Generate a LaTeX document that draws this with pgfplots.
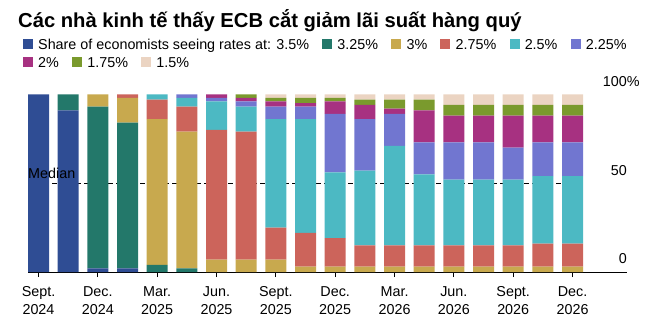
\documentclass[border=0pt]{standalone}
\usepackage{pgfplots}
\pgfplotsset{compat=1.18}
\usepackage{pgfplotstable}
\usepackage{fontspec}
\setmainfont{Liberation Sans}
\definecolor{cA}{HTML}{2F4D94}
\definecolor{cB}{HTML}{23786A}
\definecolor{cC}{HTML}{C8A94E}
\definecolor{cD}{HTML}{CC645B}
\definecolor{cE}{HTML}{4CB9C3}
\definecolor{cF}{HTML}{7176D0}
\definecolor{cG}{HTML}{A73181}
\definecolor{cH}{HTML}{7A9A2D}
\definecolor{cI}{HTML}{EBD4C2}
\pgfplotstableread{
x a b c d e f g h i
0 100 0 0 0 0 0 0 0 0
1 91 9 0 0 0 0 0 0 0
2 2 91 7 0 0 0 0 0 0
3 2 82 14 2 0 0 0 0 0
4 0 4 82 11 3 0 0 0 0
5 0 2 77 14 5 2 0 0 0
6 0 0 7 73 16 2 2 0 0
7 0 0 7 72 14 3 2 2 0
8 0 0 7 18 61 7 3 2 2
9 0 0 3 19 64 7 2 3 2
10 0 0 3 16 37 33 7 2 2
11 0 0 3 12 42 29 8 3 3
12 0 0 3 12 56 18 3 5 3
13 0 0 3 12 40 18 18 6 3
14 0 0 3 12 37 21 15 6 6
15 0 0 3 12 37 21 15 6 6
16 0 0 3 12 37 18 18 6 6
17 0 0 3 13 38 19 15 6 6
18 0 0 3 13 38 19 15 6 6
}\data
\newcommand{\lf}{\fontsize{14.4}{17}\selectfont}
\begin{document}
\begin{tikzpicture}
\useasboundingbox (0,0) rectangle (646bp,-325bp);
\node[anchor=base west, inner sep=0, font=\bfseries\fontsize{20.3}{24}\selectfont] at (18bp,-27bp) {Các nhà kinh tế thấy ECB cắt giảm lãi suất hàng quý};
% legend row 1
\fill[cA] (23bp,-49bp) rectangle ++(10bp,10bp);
\node[anchor=base west, inner sep=0, font=\lf] (t1) at (38bp,-49bp) {Share of economists seeing rates at: 3.5\%};
\fill[cB] ([xshift=13bp]t1.base east) rectangle ++(10bp,10bp);
\node[anchor=base west, inner sep=0, font=\lf] (t2) at ([xshift=28bp]t1.base east) {3.25\%};
\fill[cC] ([xshift=13bp]t2.base east) rectangle ++(10bp,10bp);
\node[anchor=base west, inner sep=0, font=\lf] (t3) at ([xshift=28bp]t2.base east) {3\%};
\fill[cD] ([xshift=13bp]t3.base east) rectangle ++(10bp,10bp);
\node[anchor=base west, inner sep=0, font=\lf] (t4) at ([xshift=28bp]t3.base east) {2.75\%};
\fill[cE] ([xshift=13bp]t4.base east) rectangle ++(10bp,10bp);
\node[anchor=base west, inner sep=0, font=\lf] (t5) at ([xshift=28bp]t4.base east) {2.5\%};
\fill[cF] ([xshift=13bp]t5.base east) rectangle ++(10bp,10bp);
\node[anchor=base west, inner sep=0, font=\lf] (t6) at ([xshift=28bp]t5.base east) {2.25\%};
% legend row 2
\fill[cG] (23bp,-67bp) rectangle ++(10bp,10bp);
\node[anchor=base west, inner sep=0, font=\lf] (u1) at (38bp,-67bp) {2\%};
\fill[cH] ([xshift=13bp]u1.base east) rectangle ++(10bp,10bp);
\node[anchor=base west, inner sep=0, font=\lf] (u2) at ([xshift=28bp]u1.base east) {1.75\%};
\fill[cI] ([xshift=13bp]u2.base east) rectangle ++(10bp,10bp);
\node[anchor=base west, inner sep=0, font=\lf] (u3) at ([xshift=28bp]u2.base east) {1.5\%};
\begin{axis}[
  at={(28bp,-272bp)}, anchor=south west,
  scale only axis, width=599bp, height=177.7bp,
  xmin=-0.354, xmax=19.835, ymin=0, ymax=100,
  enlargelimits=false,
  ybar stacked, bar width=0.708,
  axis x line*=bottom, axis y line=none,
  x axis line style={-, black, line width=0.8pt},
  xtick={0,2,...,18},
  xticklabels={{Sept.\\2024},{Dec.\\2024},{Mar.\\2025},{Jun.\\2025},{Sept.\\2025},{Dec.\\2025},{Mar.\\2026},{Jun.\\2026},{Sept.\\2026},{Dec.\\2026}},
  xticklabel style={align=center, font=\fontsize{14.4}{18.4}\selectfont, text depth=0pt, yshift=-6bp},
  tick align=outside, major tick length=5bp,
  xtick style={black, line width=0.8pt},
  ytick={50,100}, ymajorgrids, yticklabels={}, ytick style={draw=none},
  grid style={black!12, line width=0.7pt},
  clip=false,
]
\addplot[fill=cA, draw=none] table[x=x, y=a] {\data};
\addplot[fill=cB, draw=none] table[x=x, y=b] {\data};
\addplot[fill=cC, draw=none] table[x=x, y=c] {\data};
\addplot[fill=cD, draw=none] table[x=x, y=d] {\data};
\addplot[fill=cE, draw=none] table[x=x, y=e] {\data};
\addplot[fill=cF, draw=none] table[x=x, y=f] {\data};
\addplot[fill=cG, draw=none] table[x=x, y=g] {\data};
\addplot[fill=cH, draw=none] table[x=x, y=h] {\data};
\addplot[fill=cI, draw=none] table[x=x, y=i] {\data};
\draw[black, line width=1.2pt, dash pattern=on 5bp off 3bp] (axis cs:-0.354,50) -- (axis cs:18.354,50);
\node[anchor=base east, inner sep=0, font=\lf] at (axis cs:19.835,0) [yshift=9bp] {0};
\node[anchor=base east, inner sep=0, font=\lf] at (axis cs:19.835,50) [yshift=8bp] {50};
\node[anchor=base east, inner sep=0, font=\lf] at (axis cs:19.835,100) [yshift=8bp] {100\rlap{\%}};
\end{axis}
\node[anchor=base west, inner sep=0, font=\lf] at (28bp,-178bp) {Median};
\end{tikzpicture}
\end{document}
